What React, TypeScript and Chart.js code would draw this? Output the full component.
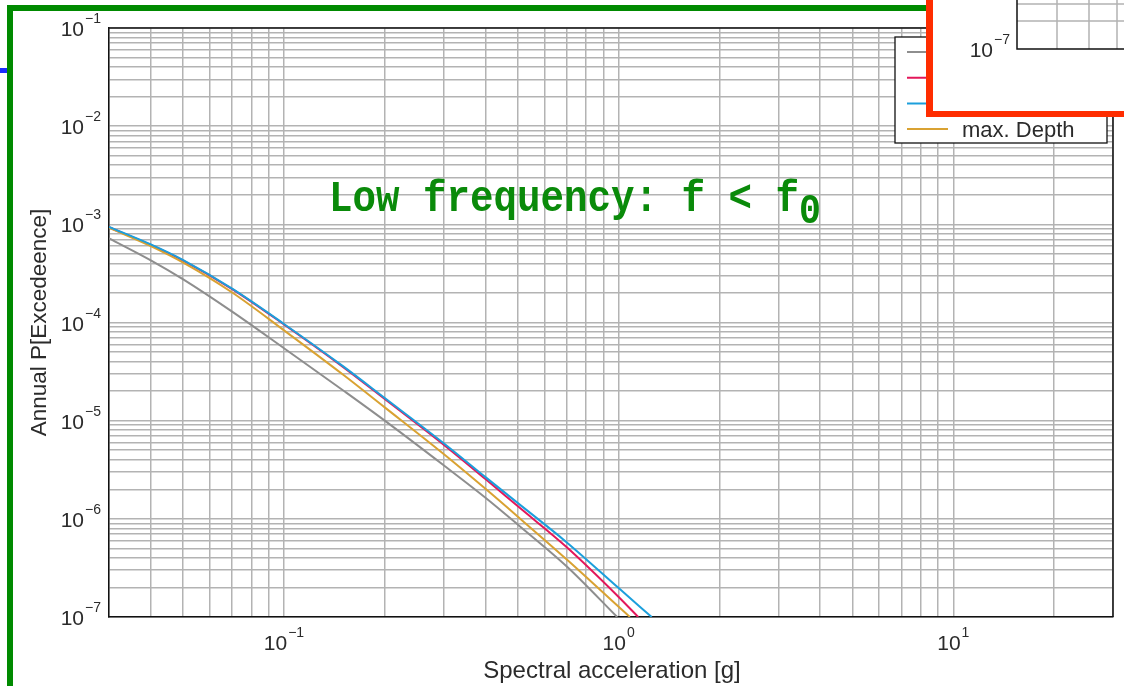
import React, { useEffect, useRef } from 'react';
import { Chart, registerables } from 'chart.js';

Chart.register(...registerables);

const W = 1124;
const H = 686;

// ---- data ----
const seriesLabels = ['Reference', 'min. Depth', 'mean Depth', 'max. Depth'];
const seriesColors = ['#8e8e8e', '#e3175a', '#1c9fdc', '#d9a232'];

const greyAccel = [0.03, 0.04, 0.05, 0.07, 0.1, 0.15, 0.2, 0.3, 0.4, 0.5, 0.7, 0.99];
const greyProb = [7.2e-4, 4.3e-4, 2.75e-4, 1.29e-4, 5.47e-5, 2.04e-5, 1.0e-5, 3.51e-6, 1.64e-6, 8.71e-7, 3.27e-7, 1.0e-7];

const redAccel = [0.03, 0.04, 0.05, 0.07, 0.1, 0.15, 0.2, 0.3, 0.4, 0.5, 0.7, 1.0, 1.144];
const redProb = [9.33e-4, 6.17e-4, 4.27e-4, 2.19e-4, 9.55e-5, 3.53e-5, 1.66e-5, 5.69e-6, 2.54e-6, 1.34e-6, 5.13e-7, 1.6e-7, 1.0e-7];

const blueAccel = [0.03, 0.04, 0.05, 0.07, 0.1, 0.15, 0.2, 0.3, 0.4, 0.5, 0.7, 1.0, 1.255];
const blueProb = [9.42e-4, 6.24e-4, 4.32e-4, 2.21e-4, 9.66e-5, 3.59e-5, 1.7e-5, 5.89e-6, 2.66e-6, 1.445e-6, 5.75e-7, 1.97e-7, 1.0e-7];

const orangeAccel = [0.03, 0.04, 0.05, 0.07, 0.1, 0.15, 0.2, 0.3, 0.4, 0.5, 0.7, 1.0, 1.08];
const orangeProb = [9.23e-4, 6.0e-4, 4.07e-4, 2.02e-4, 8.32e-5, 2.95e-5, 1.365e-5, 4.57e-6, 2.02e-6, 1.05e-6, 3.85e-7, 1.27e-7, 1.0e-7];

const xMin = 0.03;
const xMax = 30;
const yMin = 1e-7;
const yMax = 1e-1;
const xTickExps = [-1, 0, 1];
const yTickExps = [-7, -6, -5, -4, -3, -2, -1];

const xTitle = 'Spectral acceleration [g]';
const yTitle = 'Annual P[Excedeence]';
const noteText = 'Low frequency: f < f';
const noteSub = '0';

const SANS = '"Liberation Sans", Arial, sans-serif';
const MONO = '"Liberation Mono", "DejaVu Sans Mono", monospace';
const TEXT = '#2b2b2b';
const GRID = '#b3b3b3';

function logTicks(min: number, max: number) {
  const out: { value: number }[] = [];
  const e0 = Math.floor(Math.log10(min));
  const e1 = Math.ceil(Math.log10(max));
  for (let e = e0; e <= e1; e++) {
    for (let m = 1; m <= 9; m++) {
      const v = Number((m * Math.pow(10, e)).toPrecision(12));
      if (v >= min * 0.999999 && v <= max * 1.000001) out.push({ value: v });
    }
  }
  return out;
}

function txt(ctx: CanvasRenderingContext2D, s: string, x: number, y: number, font: string, color: string, align: 'left' | 'right' | 'center', sx = 1) {
  ctx.save();
  ctx.font = font;
  ctx.fillStyle = color;
  ctx.textBaseline = 'alphabetic';
  ctx.textAlign = 'left';
  const w = ctx.measureText(s).width * sx;
  const x0 = align === 'left' ? x : align === 'right' ? x - w : x - w / 2;
  ctx.translate(x0, y);
  ctx.scale(sx, 1);
  ctx.fillText(s, 0, 0);
  ctx.restore();
  return w;
}

function measure(ctx: CanvasRenderingContext2D, s: string, font: string) {
  ctx.save();
  ctx.font = font;
  const w = ctx.measureText(s).width;
  ctx.restore();
  return w;
}

const supStr = (e: number) => (e < 0 ? '\u2212' + Math.abs(e) : String(e));

const overlayPlugin = {
  id: 'overlay',
  afterDraw(chart: any) {
    const ctx: CanvasRenderingContext2D = chart.ctx;
    const { left, right, top, bottom } = chart.chartArea;
    const xs = chart.scales.x;
    const ys = chart.scales.y;
    const baseFont = '21px ' + SANS;
    const supFont = '14px ' + SANS;

    ctx.save();
    // top & right frame
    ctx.strokeStyle = '#111';
    ctx.lineWidth = 1.5;
    ctx.beginPath();
    ctx.moveTo(left, top);
    ctx.lineTo(right, top);
    ctx.lineTo(right, bottom);
    ctx.stroke();

    // y tick labels
    for (const e of yTickExps) {
      const py = ys.getPixelForValue(Math.pow(10, e));
      const s = supStr(e);
      const sw = measure(ctx, s, supFont);
      const xr = left - 8;
      txt(ctx, s, xr, py - 5, supFont, TEXT, 'right');
      txt(ctx, '10', xr - sw - 1, py + 8, baseFont, TEXT, 'right');
    }
    // x tick labels
    for (const e of xTickExps) {
      const px = xs.getPixelForValue(Math.pow(10, e));
      const s = supStr(e);
      const w1 = measure(ctx, '10', baseFont);
      const w2 = measure(ctx, s, supFont);
      const start = px - (w1 + w2 + 1) / 2;
      txt(ctx, '10', start, bottom + 33, baseFont, TEXT, 'left');
      txt(ctx, s, start + w1 + 1, bottom + 20, supFont, TEXT, 'left');
    }
    // axis titles
    txt(ctx, xTitle, (left + right) / 2 + 1, bottom + 61, '24px ' + SANS, TEXT, 'center');
    ctx.save();
    ctx.translate(46, (top + bottom) / 2);
    ctx.rotate(-Math.PI / 2);
    txt(ctx, yTitle, 0, 0, '22.5px ' + SANS, TEXT, 'center');
    ctx.restore();

    // legend
    const lx0 = right - 218, ly0 = top + 9, lw = 212, lh = 106;
    ctx.fillStyle = '#fff';
    ctx.fillRect(lx0, ly0, lw, lh);
    ctx.strokeStyle = '#111';
    ctx.lineWidth = 1.3;
    ctx.strokeRect(lx0, ly0, lw, lh);
    chart.data.datasets.forEach((ds: any, i: number) => {
      const yy = ly0 + 15 + i * 25.7;
      ctx.strokeStyle = ds.borderColor;
      ctx.lineWidth = 2;
      ctx.beginPath();
      ctx.moveTo(lx0 + 12, yy);
      ctx.lineTo(lx0 + 53, yy);
      ctx.stroke();
      txt(ctx, ds.label, lx0 + 67, yy + 8, '22px ' + SANS, TEXT, 'left');
    });

    // green annotation
    const monoFont = 'bold 45px ' + MONO;
    const adv = measure(ctx, 'M', monoFont);
    const sx = 23.5 / adv;
    const nx = 329;
    const w = txt(ctx, noteText, nx, 211, monoFont, '#0a8a0a', 'left', sx);
    txt(ctx, noteSub, nx + w, 223, 'bold 42px ' + MONO, '#0a8a0a', 'left', sx);

    // red overlay box (fragment of another figure)
    ctx.fillStyle = '#fff';
    ctx.fillRect(926, 0, W - 926, 117);
    ctx.strokeStyle = GRID;
    ctx.lineWidth = 1.5;
    ctx.beginPath();
    for (const gx of [1057, 1089, 1117]) { ctx.moveTo(gx, 0); ctx.lineTo(gx, 49); }
    for (const gy of [4, 21]) { ctx.moveTo(1017, gy); ctx.lineTo(W, gy); }
    ctx.stroke();
    ctx.strokeStyle = '#111';
    ctx.beginPath();
    ctx.moveTo(1017, 0); ctx.lineTo(1017, 49); ctx.lineTo(W, 49);
    ctx.stroke();
    const s7 = supStr(-7);
    const s7w = measure(ctx, s7, supFont);
    txt(ctx, s7, 1010, 44, supFont, TEXT, 'right');
    txt(ctx, '10', 1010 - s7w - 1, 57, baseFont, TEXT, 'right');
    ctx.fillStyle = '#ff2d00';
    ctx.fillRect(926, 0, 7, 117);
    ctx.fillRect(926, 111, W - 926, 6);

    // green frame and blue stub
    ctx.fillStyle = '#008a00';
    ctx.fillRect(7, 5, 6, H - 5);
    ctx.fillRect(7, 5, 919, 6);
    ctx.fillStyle = '#1a2cff';
    ctx.fillRect(0, 68, 7, 5);
    ctx.restore();
  },
};

export default function App() {
  const ref = useRef<HTMLCanvasElement | null>(null);

  useEffect(() => {
    if (!ref.current) return;
    const mk = (xsArr: number[], ysArr: number[]) => xsArr.map((x, i) => ({ x, y: ysArr[i] }));
    const dataSets = [
      { data: mk(greyAccel, greyProb), order: 3 },
      { data: mk(redAccel, redProb), order: 2 },
      { data: mk(blueAccel, blueProb), order: 0 },
      { data: mk(orangeAccel, orangeProb), order: 1 },
    ].map((d, i) => ({
      label: seriesLabels[i],
      data: d.data,
      order: d.order,
      borderColor: seriesColors[i],
      backgroundColor: seriesColors[i],
      borderWidth: 2,
      pointRadius: 0,
      fill: false,
      cubicInterpolationMode: 'monotone' as const,
    }));

    const grid = { color: GRID, lineWidth: 1.5, drawTicks: false };
    const chart = new Chart(ref.current, {
      type: 'line',
      data: { datasets: dataSets as any },
      options: {
        responsive: false,
        animation: false,
        devicePixelRatio: 1,
        layout: { padding: { left: 109, right: 11, top: 28, bottom: 69 } },
        plugins: { legend: { display: false }, tooltip: { enabled: false }, title: { display: false } },
        scales: {
          x: {
            type: 'logarithmic',
            min: xMin,
            max: xMax,
            grid,
            border: { display: true, color: '#111', width: 1.5 },
            ticks: { display: false },
            afterBuildTicks: (s: any) => { s.ticks = logTicks(xMin, xMax); },
          },
          y: {
            type: 'logarithmic',
            min: yMin,
            max: yMax,
            grid,
            border: { display: true, color: '#111', width: 1.5 },
            ticks: { display: false },
            afterBuildTicks: (s: any) => { s.ticks = logTicks(yMin, yMax); },
          },
        },
      },
      plugins: [overlayPlugin],
    });
    return () => chart.destroy();
  }, []);

  return (
    <div style={{ position: 'fixed', left: 0, top: 0, width: W, height: H, background: '#fff', overflow: 'hidden' }}>
      <canvas ref={ref} width={W} height={H} style={{ display: 'block', width: W, height: H }} />
    </div>
  );
}
